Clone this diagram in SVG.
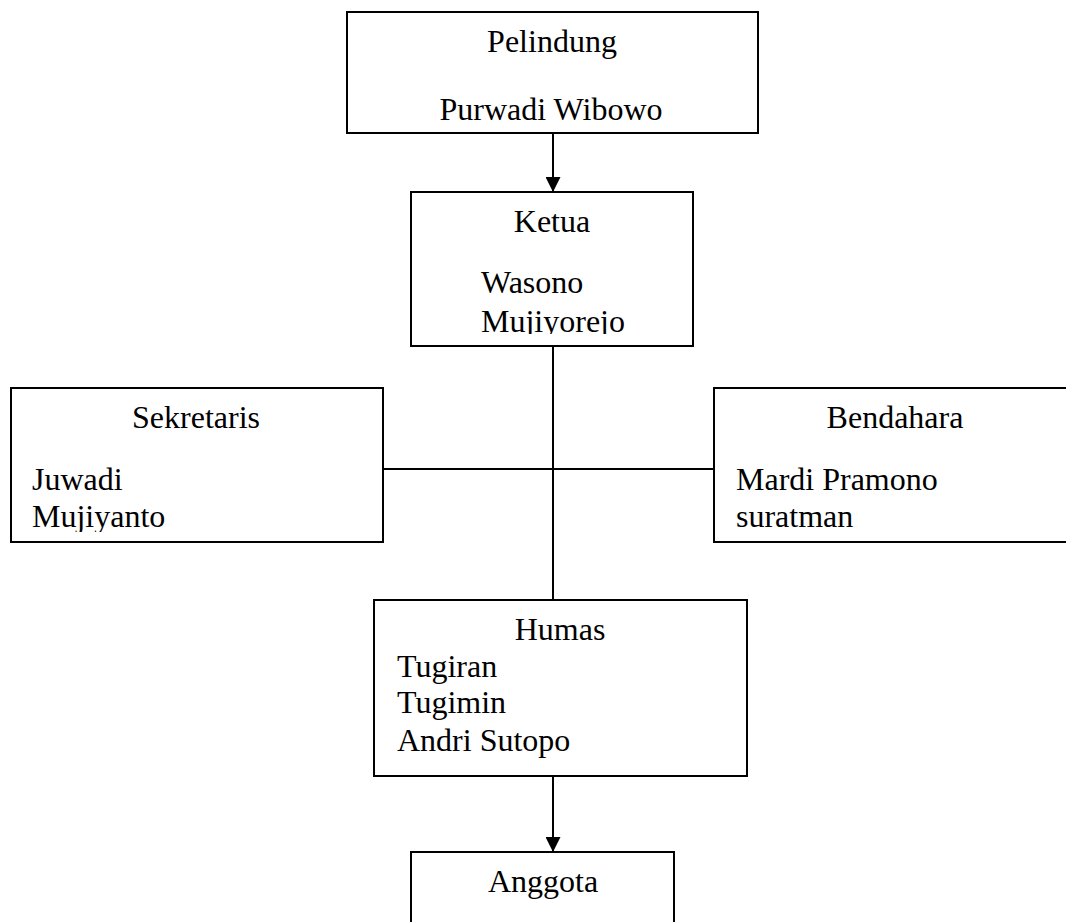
<svg xmlns="http://www.w3.org/2000/svg" width="1066" height="922" viewBox="0 0 1066 922">
<style>
.box{fill:#fff;stroke:#000;stroke-width:2}
.ln{fill:none;stroke:#000;stroke-width:2}
text{font-family:"Liberation Serif","Times New Roman",serif;font-size:32px;fill:#000}
.c{text-anchor:middle}
</style>
<defs>
<marker id="ah" markerWidth="15" markerHeight="15" refX="15" refY="7.5" orient="auto" markerUnits="userSpaceOnUse">
<path d="M0,0 L15,7.5 L0,15 Z" fill="#000"/>
</marker>
<clipPath id="clipK"><rect x="411" y="192" width="282" height="142"/></clipPath>
<clipPath id="clipS"><rect x="11" y="388" width="372" height="144"/></clipPath>
</defs>
<rect width="1066" height="922" fill="#fff"/>
<g id="connectors">
<line class="ln" x1="553" y1="133" x2="553" y2="192" marker-end="url(#ah)"/>
<line class="ln" x1="553" y1="346" x2="553" y2="600"/>
<line class="ln" x1="383" y1="469" x2="714" y2="469"/>
<line class="ln" x1="553" y1="776" x2="553" y2="852" marker-end="url(#ah)"/>
</g>
<g id="pelindung">
<rect class="box" x="347" y="12" width="411" height="121"/>
<text class="c" x="552" y="52">Pelindung</text>
<text class="c" x="551" y="120">Purwadi Wibowo</text>
</g>
<g id="ketua">
<rect class="box" x="411" y="192" width="282" height="154"/>
<text class="c" x="552" y="232">Ketua</text>
<g clip-path="url(#clipK)">
<text x="481" y="293">Wasono</text>
<text x="481" y="332">Mujiyorejo</text>
</g>
</g>
<g id="sekretaris">
<rect class="box" x="11" y="388" width="372" height="154"/>
<text class="c" x="196" y="428">Sekretaris</text>
<g clip-path="url(#clipS)">
<text x="32" y="490">Juwadi</text>
<text x="32" y="527">Mujiyanto</text>
</g>
</g>
<g id="bendahara">
<rect class="box" x="714" y="388" width="362" height="154"/>
<text class="c" x="895" y="428">Bendahara</text>
<text x="736" y="490">Mardi Pramono</text>
<text x="736" y="527">suratman</text>
</g>
<g id="humas">
<rect class="box" x="374" y="600" width="373" height="176"/>
<text class="c" x="560" y="640">Humas</text>
<text x="397" y="677">Tugiran</text>
<text x="397" y="713">Tugimin</text>
<text x="397" y="751">Andri Sutopo</text>
</g>
<g id="anggota">
<rect class="box" x="411" y="852" width="263" height="90"/>
<text class="c" x="543" y="892">Anggota</text>
</g>
</svg>
